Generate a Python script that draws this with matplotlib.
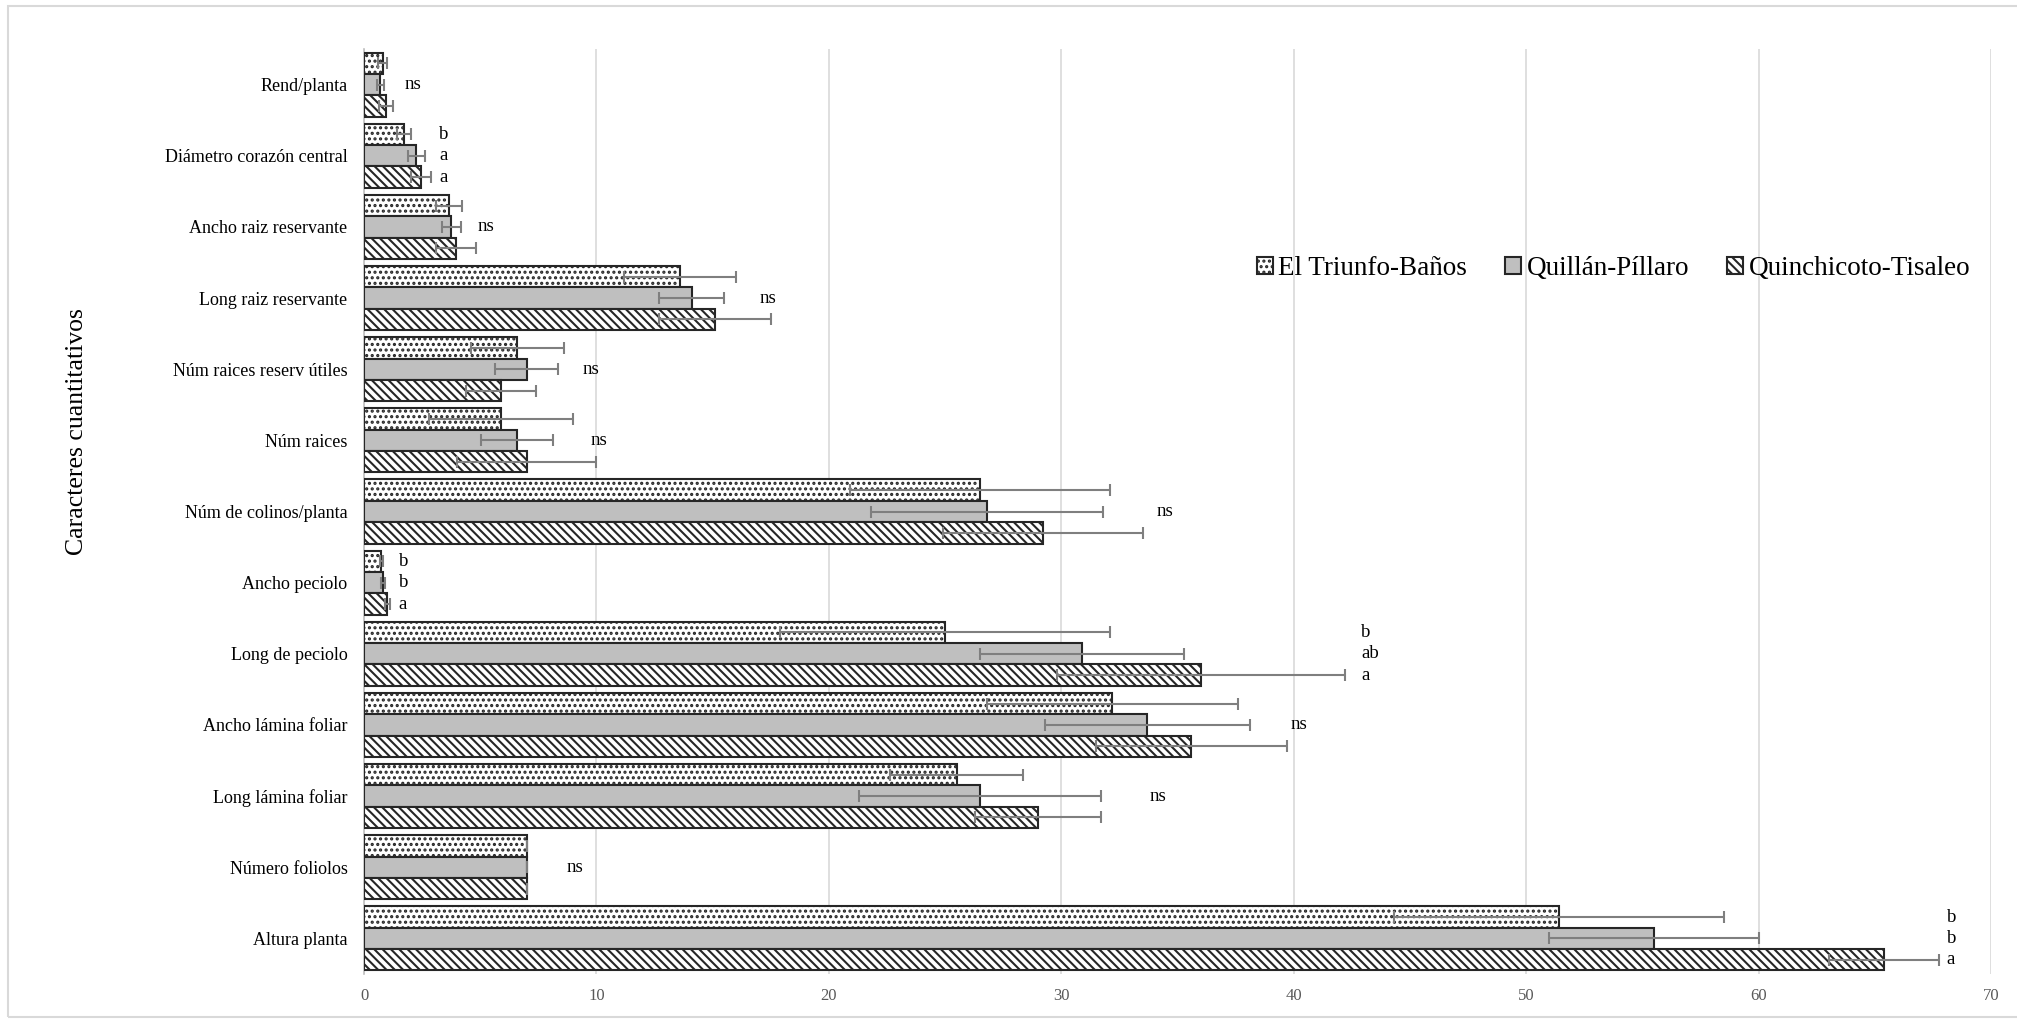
import numpy as np
import matplotlib
matplotlib.use("Agg")
from matplotlib import pyplot as plt
from matplotlib.patches import Rectangle

plt.rcParams['font.family'] = ['Liberation Serif', 'DejaVu Serif']
plt.rcParams['hatch.linewidth'] = 1.5

# categorias de arriba hacia abajo
categorias = ["Rend/planta", "Diámetro corazón central", "Ancho raiz reservante",
              "Long raiz reservante", "Núm raices reserv útiles", "Núm raices",
              "Núm de colinos/planta", "Ancho peciolo", "Long de peciolo",
              "Ancho lámina foliar", "Long lámina foliar", "Número foliolos",
              "Altura planta"]
series = ["El Triunfo-Baños", "Quillán-Píllaro", "Quinchicoto-Tisaleo"]

triunfo = [0.8, 1.7, 3.65, 13.6, 6.6, 5.9, 26.5, 0.75, 25.0, 32.2, 25.5, 7.0, 51.4]
quillan = [0.7, 2.25, 3.75, 14.1, 7.0, 6.6, 26.8, 0.8, 30.9, 33.7, 26.5, 7.0, 55.5]
quinchi = [0.95, 2.45, 3.95, 15.1, 5.9, 7.0, 29.2, 1.0, 36.0, 35.6, 29.0, 7.0, 65.4]

err_triunfo = [0.2, 0.3, 0.55, 2.4, 2.0, 3.1, 5.6, 0.08, 7.1, 5.4, 2.85, 0, 7.1]
err_quillan = [0.15, 0.37, 0.4, 1.4, 1.35, 1.55, 5.0, 0.08, 4.4, 4.4, 5.2, 0, 4.5]
err_quinchi = [0.3, 0.43, 0.85, 2.4, 1.5, 3.0, 4.3, 0.1, 6.2, 4.1, 2.7, 0, 2.35]

# letras de significancia (una por serie, o "ns" para la categoria)
letras = [["ns"], ["b", "a", "a"], ["ns"], ["ns"], ["ns"], ["ns"], ["ns"],
          ["b", "b", "a"], ["b", "ab", "a"], ["ns"], ["ns"], ["ns"], ["b", "b", "a"]]
letras_x = [1.72, 3.23, 4.89, 17.0, 9.4, 9.73, 34.1, 1.49, 42.9, 39.86, 33.8, 8.73, 68.1]

n = len(categorias)
y = np.arange(n)[::-1]
h = 0.3

fig = plt.figure(figsize=(20.17, 10.22), dpi=100)
ax = fig.add_axes([0.1805, 0.047, 0.8066, 0.905])

ekw = dict(ecolor='#7f7f7f', elinewidth=1.5, capsize=4.3, capthick=1.5)
ax.barh(y + h, triunfo, h, xerr=err_triunfo, color='white', edgecolor='#262626',
        hatch='...', linewidth=1.5, label=series[0], error_kw=ekw, zorder=3)
ax.barh(y, quillan, h, xerr=err_quillan, color='#bfbfbf', edgecolor='#262626',
        linewidth=1.5, label=series[1], error_kw=ekw, zorder=3)
ax.barh(y - h, quinchi, h, xerr=err_quinchi, color='white', edgecolor='#262626',
        hatch='\\\\\\\\', linewidth=1.5, label=series[2], error_kw=ekw, zorder=3)

# letras
for i in range(n):
    if len(letras[i]) == 1:
        ax.text(letras_x[i], y[i], letras[i][0], ha='left', va='center', fontsize=13.5)
    else:
        for j, off in enumerate([h, 0, -h]):
            ax.text(letras_x[i], y[i] + off, letras[i][j], ha='left', va='center', fontsize=13.5)

ax.set_xlim(0, 70)
ax.set_ylim(-0.5, n - 0.5)
ax.set_xticks(np.arange(0, 71, 10))
ax.set_yticks(y)
ax.set_yticklabels(categorias, fontsize=13)
ax.tick_params(axis='y', length=0, pad=12)
ax.tick_params(axis='x', length=0, pad=10, labelsize=12, labelcolor='#595959')
ax.grid(axis='x', color='#d9d9d9', linewidth=1.2, zorder=0)
ax.set_axisbelow(True)
for s in ['top', 'right', 'bottom']:
    ax.spines[s].set_visible(False)
ax.spines['left'].set_color('#bfbfbf')
ax.spines['left'].set_linewidth(1.2)

fig.text(0.038, 0.578, "Caracteres cuantitativos", rotation=90, ha='center', va='center',
         fontsize=18.5)

fig.legend(loc='center left', bbox_to_anchor=(0.623, 0.737), ncol=3, frameon=False,
           fontsize=19.5, handlelength=0.6, handleheight=0.6, handletextpad=0.2,
           columnspacing=1.4, borderpad=0, borderaxespad=0)

fig.patches.append(Rectangle((8 / 2017, 1 - 1017 / 1022), 1.0, 1011 / 1022,
                             transform=fig.transFigure, fill=False,
                             edgecolor='#d9d9d9', linewidth=1.5))

fig.savefig("out.png", dpi=100)
